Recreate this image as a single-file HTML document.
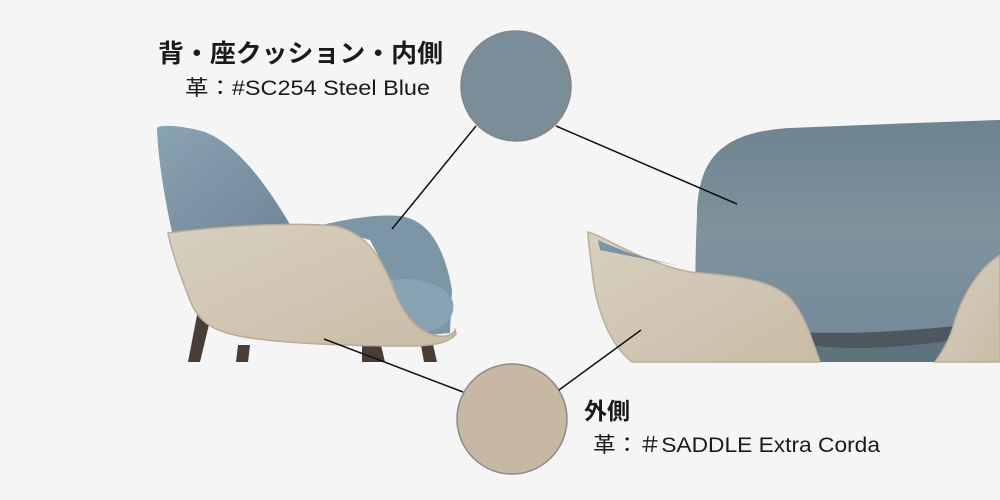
<!DOCTYPE html>
<html><head><meta charset="utf-8"><style>
html,body{margin:0;padding:0;background:#f5f5f5;}
svg{display:block;}
text{font-family:"Liberation Sans","Noto Sans CJK JP",sans-serif;fill:#1a1a1a;}
</style></head><body>
<svg width="1000" height="500" viewBox="0 0 1000 500" xmlns="http://www.w3.org/2000/svg">
<defs>
<linearGradient id="bl" x1="0" y1="0" x2="1" y2="1"><stop offset="0" stop-color="#8aa3b2"/><stop offset="1" stop-color="#6f8796"/></linearGradient>
<linearGradient id="bg" x1="0" y1="0" x2="1" y2="1"><stop offset="0" stop-color="#d8cfbf"/><stop offset="1" stop-color="#c9bca8"/></linearGradient>
<linearGradient id="br" x1="0" y1="0" x2="0" y2="1"><stop offset="0" stop-color="#6d838f"/><stop offset="0.5" stop-color="#7f939d"/><stop offset="1" stop-color="#74899a"/></linearGradient>
</defs>
<rect width="1000" height="500" fill="#f5f5f5"/>

<!-- LEFT CHAIR -->
<polygon points="198,310 212,312 200,362 188,362" fill="#4a3d36"/>
<polygon points="238,345 250,345 248,362 236,362" fill="#4a3d36"/>
<polygon points="362,343 380,341 385,362 362,362" fill="#4a3d36"/>
<polygon points="420,340 432,340 437,362 424,362" fill="#4a3d36"/>
<path d="M157,128 C160,124 185,126 205,132 C240,146 270,190 292,228 L172,232 C165,200 158,160 157,128 Z" fill="url(#bl)"/>
<path d="M318,226 C350,218 380,214 400,216 C430,220 445,250 452,290 L450,333 L420,336 L370,240 Z" fill="#7d96a6"/>
<path d="M392,280 C415,276 447,284 453,302 C456,320 442,330 420,333 L400,330 Z" fill="#89a3b3"/>
<path d="M168,233 C220,226 290,222 335,226 C362,232 378,250 392,285 C402,312 415,332 438,336 C448,337 453,334 455,330 L456,334 C450,342 435,346 410,346 C370,346 300,345 250,338 C215,332 198,325 188,295 C180,275 172,252 168,233 Z" fill="url(#bg)" stroke="#b9ab96" stroke-width="1.5"/>

<!-- RIGHT CHAIR -->
<path d="M697,215 C698,160 720,132 790,128 C860,125 940,122 1000,120 L1000,345 L700,345 C694,310 695,260 697,215 Z" fill="url(#br)"/>
<path d="M800,332 C850,335 920,330 965,325 L960,362 L815,362 Z" fill="#4d575d"/>
<path d="M810,345 C860,352 920,345 955,340 L950,362 L815,362 Z" fill="#5f737f"/>
<path d="M588,232 C600,234 640,262 690,272 C740,276 770,280 790,298 C805,315 812,340 820,362 L632,362 C610,345 596,310 592,270 C590,255 588,240 588,232 Z" fill="url(#bg)" stroke="#bcae98" stroke-width="1.5"/>
<path d="M598,240 C620,250 640,258 690,268 L600,250 Z" fill="#7d93a0"/>
<path d="M1000,255 C980,268 965,290 955,320 C950,340 942,352 935,362 L1000,362 Z" fill="url(#bg)" stroke="#bcae98" stroke-width="1.5"/>

<circle cx="516" cy="86" r="55" fill="#7b8d98" stroke="#868686" stroke-width="1.5"/>
<circle cx="512" cy="419" r="55" fill="#c6b8a3" stroke="#8a8a8a" stroke-width="1.5"/>

<g stroke="#111" stroke-width="1.5">
<line x1="476" y1="126" x2="392" y2="229"/>
<line x1="556" y1="126" x2="737" y2="204"/>
<line x1="324" y1="339" x2="463" y2="392"/>
<line x1="559" y1="390" x2="641" y2="330"/>
</g>

<text x="158" y="62" font-size="25" font-weight="bold" textLength="285" lengthAdjust="spacingAndGlyphs">背・座クッション・内側</text>
<text x="185" y="95" font-size="21" textLength="245" lengthAdjust="spacingAndGlyphs">革：#SC254 Steel Blue</text>
<text x="584" y="419" font-size="23" font-weight="bold">外側</text>
<text x="593" y="452" font-size="21" textLength="287" lengthAdjust="spacingAndGlyphs">革：＃SADDLE Extra Corda</text>
</svg>
</body></html>
